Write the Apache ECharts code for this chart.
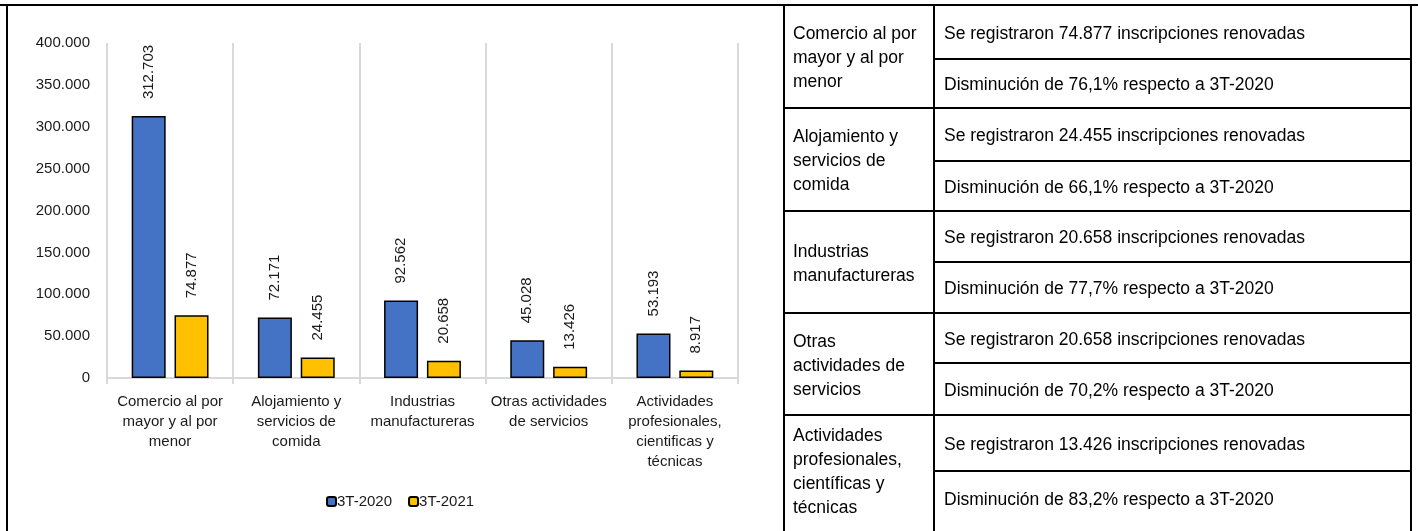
<!DOCTYPE html>
<html>
<head>
<meta charset="utf-8">
<script src="https://cdn.jsdelivr.net/npm/echarts@6/dist/echarts.min.js"></script>
<style>
  html, body { margin: 0; padding: 0; background: #fff; }
  #main { width: 1418px; height: 531px; }
</style>
</head>
<body>
<div id="main"></div>
<script>
// chart data
var categories = [
  'Comercio al por\nmayor y al por\nmenor',
  'Alojamiento y\nservicios de\ncomida',
  'Industrias\nmanufactureras',
  'Otras actividades\nde servicios',
  'Actividades\nprofesionales,\ncientificas y\ntécnicas'
];
var values2020 = [312703, 72171, 92562, 45028, 53193];
var values2021 = [74877, 24455, 20658, 13426, 8917];
var seriesNames = ['3T-2020', '3T-2021'];
var yTicks = { min: 0, max: 400000, interval: 50000 };

// table data
var tableSectors = [
  'Comercio al por\nmayor y al por\nmenor',
  'Alojamiento y\nservicios de\ncomida',
  'Industrias\nmanufactureras',
  'Otras\nactividades de\nservicios',
  'Actividades\nprofesionales,\ncientíficas y\ntécnicas'
];
var tableRenewed = [74877, 24455, 20658, 20658, 13426];
var tableDecrease = ['76,1', '66,1', '77,7', '70,2', '83,2'];

// layout
const FONT = '"Liberation Sans", Arial, sans-serif';
const FS = 15;
const TABLE_FONT = '17.5px "Liberation Sans", Arial, sans-serif';
const COL_X = [784, 934, 1411];
const ROW_LINES = [5, 59, 108, 161, 211, 262, 313, 363, 415, 471, 545];

function fmt(v) {
  return String(v).replace(/\B(?=(\d{3})+(?!\d))/g, '.');
}

function buildTable() {
  var els = [];
  // frame round the chart
  els.push({ type: 'rect', shape: { x: 7, y: 5, width: COL_X[0] - 7, height: 560 },
    style: { fill: 'none', stroke: '#000', lineWidth: 2 } });
  // verticals
  COL_X.forEach(function (x) {
    els.push({ type: 'line', shape: { x1: x, y1: 5, x2: x, y2: 545 },
      style: { stroke: '#000', lineWidth: 2 } });
  });
  // horizontals: group lines span both columns, sub-row lines only the right one
  ROW_LINES.forEach(function (y, i) {
    var x1 = i === 0 ? 0 : COL_X[i % 2 === 0 ? 0 : 1];
    var x2 = i === 0 ? 1418 : COL_X[2];
    els.push({ type: 'line', shape: { x1: x1, y1: y, x2: x2, y2: y },
      style: { stroke: '#000', lineWidth: 2 } });
  });
  tableSectors.forEach(function (name, i) {
    var top = ROW_LINES[i * 2], mid = ROW_LINES[i * 2 + 1], bot = Math.min(ROW_LINES[i * 2 + 2], 525);
    els.push({ type: 'text', x: COL_X[0] + 9, y: (top + bot) / 2 + 2,
      style: { text: name, font: TABLE_FONT, fill: '#000', lineHeight: 24,
        align: 'left', verticalAlign: 'middle', textAlign: 'left', textVerticalAlign: 'middle' } });
    els.push({ type: 'text', x: COL_X[1] + 10, y: (top + mid) / 2 + 2,
      style: { text: 'Se registraron ' + fmt(tableRenewed[i]) + ' inscripciones renovadas', font: TABLE_FONT, fill: '#000',
        align: 'left', verticalAlign: 'middle', textAlign: 'left', textVerticalAlign: 'middle' } });
    els.push({ type: 'text', x: COL_X[1] + 10, y: (mid + bot) / 2 + 2,
      style: { text: 'Disminución de ' + tableDecrease[i] + '% respecto a 3T-2020', font: TABLE_FONT, fill: '#000',
        align: 'left', verticalAlign: 'middle', textAlign: 'left', textVerticalAlign: 'middle' } });
  });
  return els;
}

var barLabel = {
  show: true,
  position: 'top',
  rotate: 90,
  align: 'left',
  verticalAlign: 'middle',
  distance: 17,
  fontFamily: FONT,
  fontSize: FS,
  color: '#1a1a1a',
  formatter: function (p) { return fmt(p.value); }
};

var option = {
  animation: false,
  textStyle: { fontFamily: FONT },
  grid: { left: 107, right: 680, top: 43, bottom: 153 },
  legend: {
    left: 321,
    top: 489,
    itemWidth: 9,
    itemHeight: 9,
    itemGap: 16,
    textStyle: { fontFamily: FONT, fontSize: FS, color: '#1a1a1a', padding: [0, 0, 0, -4] },
    data: seriesNames
  },
  xAxis: {
    type: 'category',
    data: categories,
    axisLine: { lineStyle: { color: '#d9d9d9', width: 2 } },
    axisTick: { show: true, length: 6, lineStyle: { color: '#d9d9d9', width: 2 } },
    splitLine: { show: true, lineStyle: { color: '#d9d9d9', width: 2 } },
    axisLabel: { interval: 0, margin: 14, fontFamily: FONT, fontSize: FS, lineHeight: 20, color: '#1a1a1a' }
  },
  yAxis: {
    type: 'value',
    min: yTicks.min,
    max: yTicks.max,
    interval: yTicks.interval,
    axisLine: { show: false },
    axisTick: { show: false },
    splitLine: { show: false },
    axisLabel: { margin: 17, fontFamily: FONT, fontSize: FS, color: '#1a1a1a', formatter: fmt }
  },
  series: [
    { name: seriesNames[0], type: 'bar', data: values2020, barWidth: 34, barGap: '26%',
      itemStyle: { color: '#4472C4', borderColor: '#000', borderWidth: 1.5 }, label: barLabel },
    { name: seriesNames[1], type: 'bar', data: values2021, barWidth: 34, barGap: '26%',
      itemStyle: { color: '#FFC000', borderColor: '#000', borderWidth: 1.5 }, label: barLabel }
  ],
  graphic: buildTable()
};

var chart = echarts.init(document.getElementById('main'));
chart.setOption(option);
</script>
</body>
</html>
